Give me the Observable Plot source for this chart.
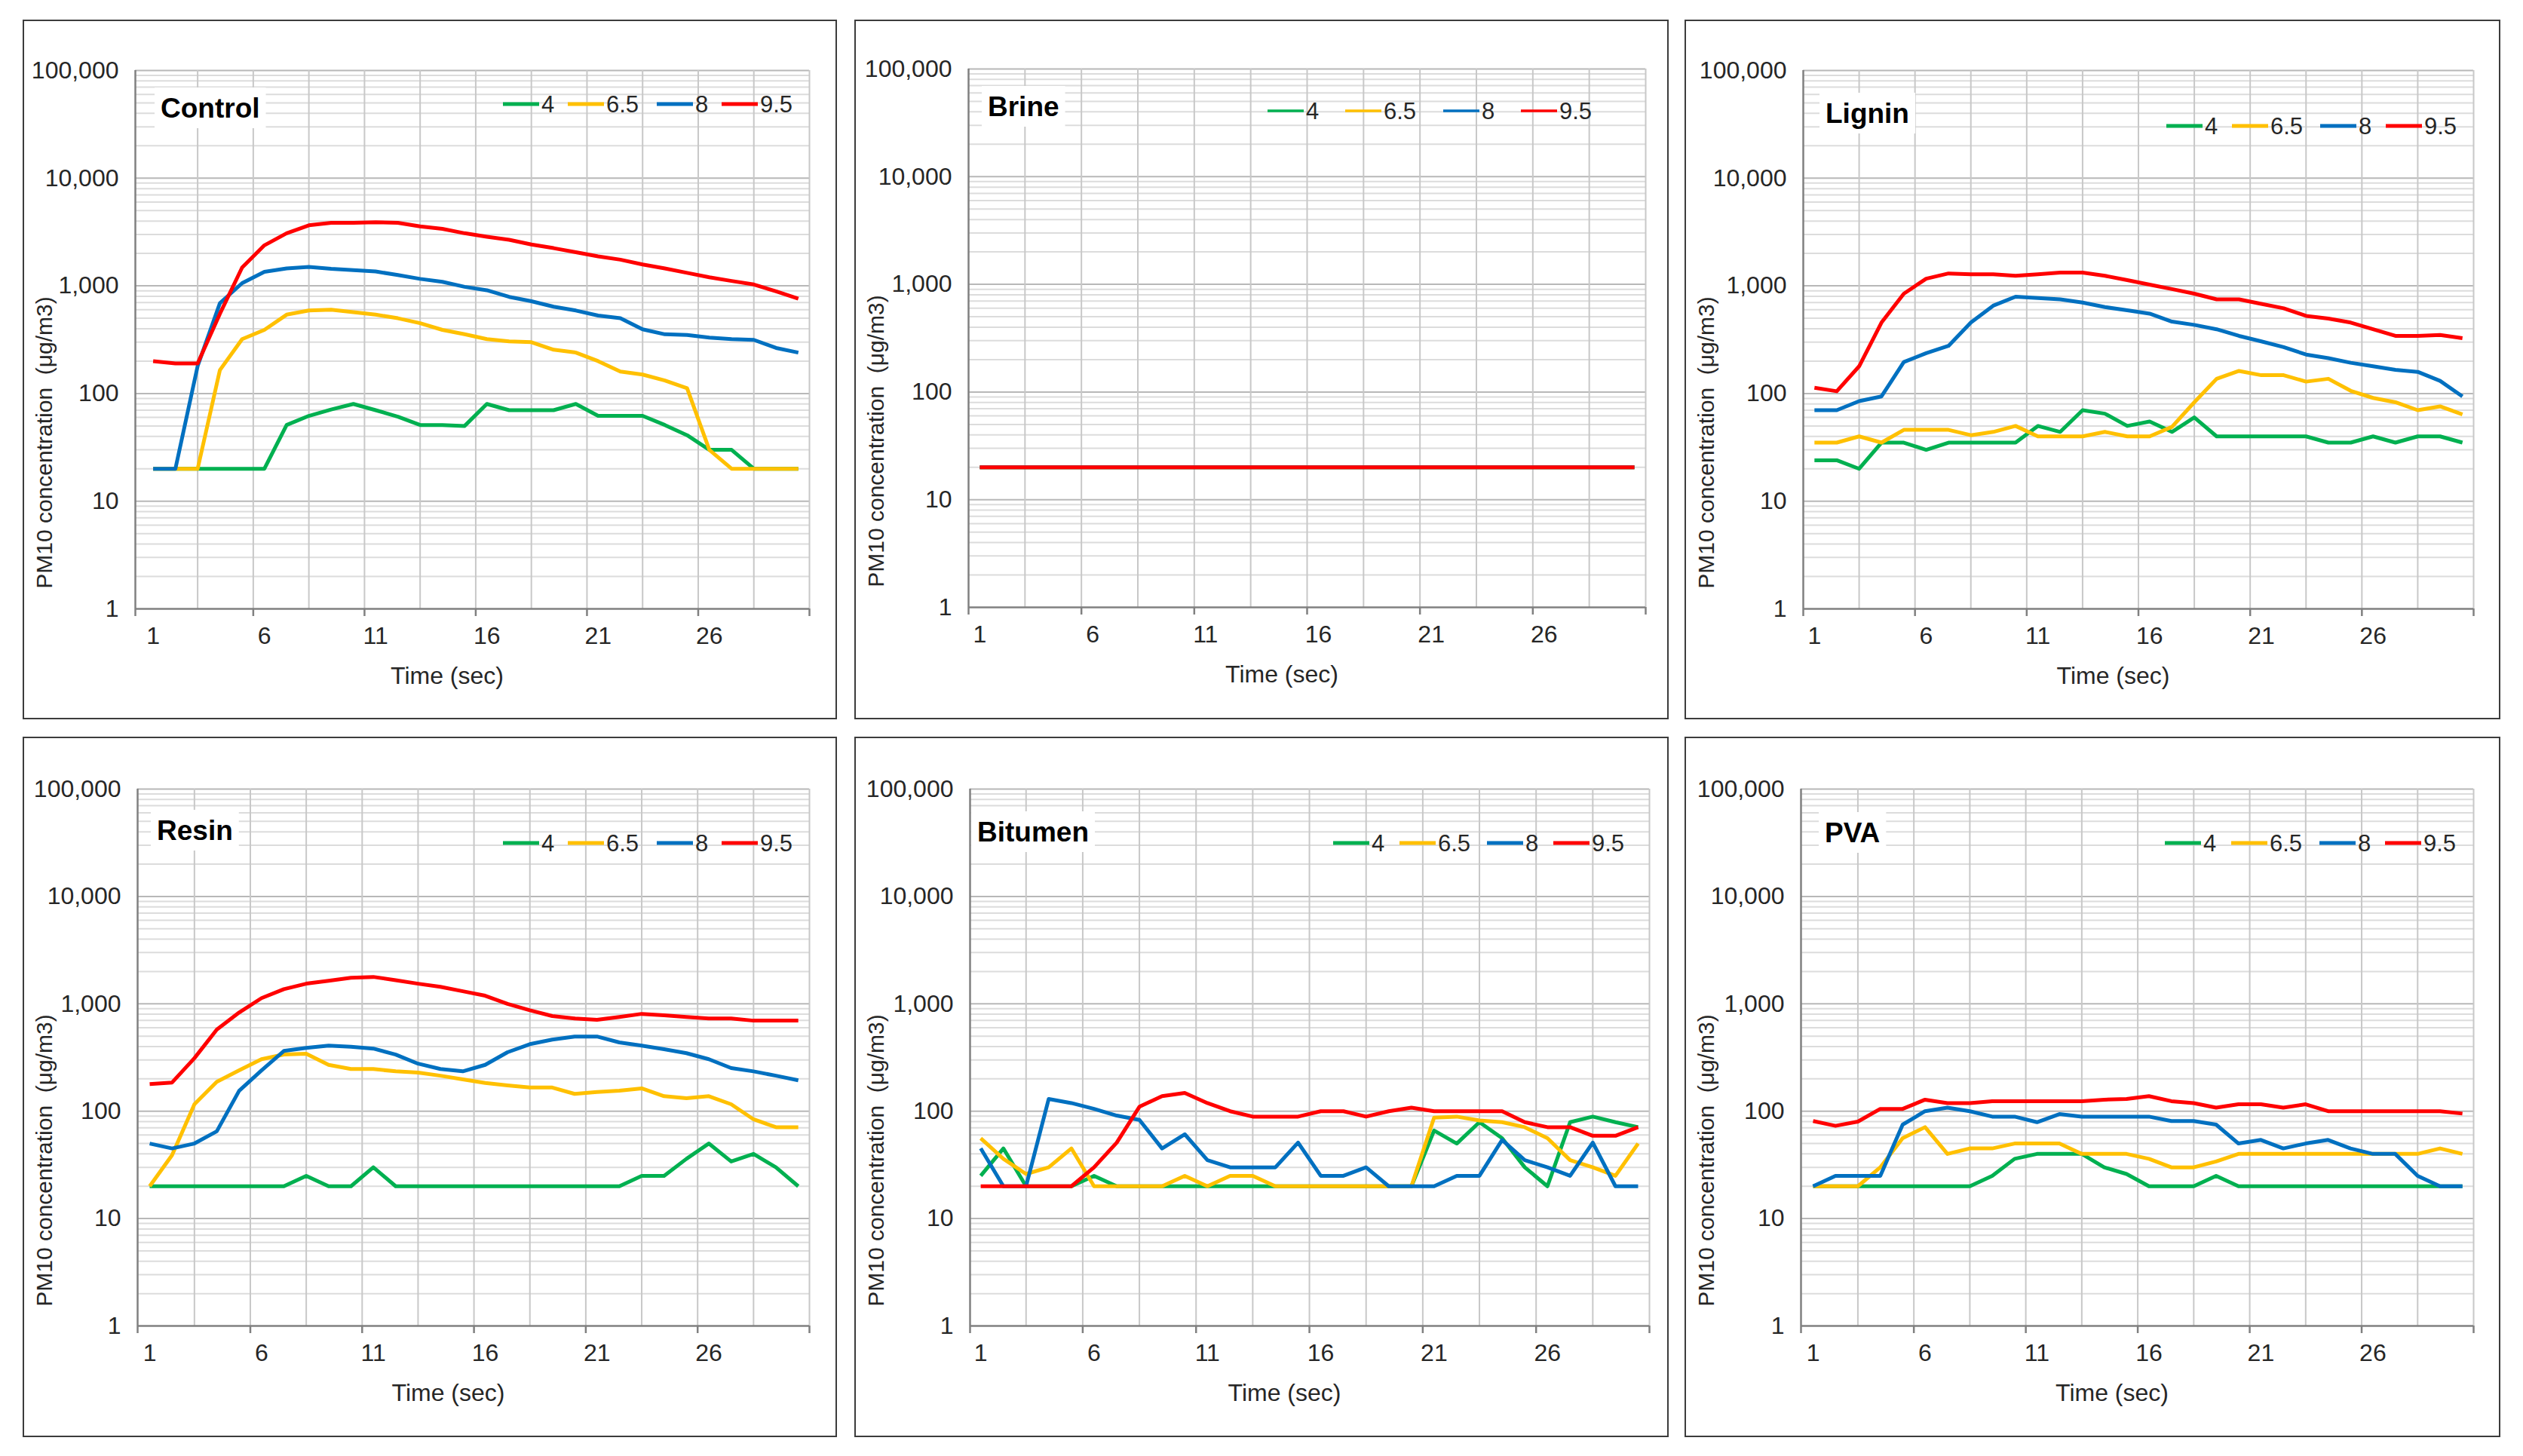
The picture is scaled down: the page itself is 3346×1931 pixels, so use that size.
<!DOCTYPE html>
<html><head><meta charset="utf-8">
<script src="https://cdn.jsdelivr.net/npm/d3@7"></script>
<script src="https://cdn.jsdelivr.net/npm/@observablehq/plot@0.6"></script>
<style>
html,body{margin:0;padding:0;background:#fff;}
body{width:3346px;height:1931px;position:relative;overflow:hidden;font-family:"Liberation Sans",Arial,sans-serif;}
.panel{position:absolute;box-sizing:border-box;border:2px solid #3c3c3c;background:#fff;}
.panel svg{display:block;}
</style></head><body>
<script>
// ---------- data ----------
const time = [1,2,3,4,5,6,7,8,9,10,11,12,13,14,15,16,17,18,19,20,21,22,23,24,25,26,27,28,29,30];
const seriesNames = ["4","6.5","8","9.5"];
const seriesColors = ["#00b050","#ffc000","#0070c0","#ff0000"];
const yTickValues = [1,10,100,1000,10000,100000];
const yMinorGrid = [2,3,4,5,6,7,8,9,20,30,40,50,60,70,80,90,200,300,400,500,600,700,800,900,
  2000,3000,4000,5000,6000,7000,8000,9000,20000,30000,40000,50000,60000,70000,80000,90000];
const yMajorGrid = [10,100,1000,10000,100000];
const xTickLabels = [1,6,11,16,21,26];
const xTickMarks = [5.5,10.5,15.5,20.5,25.5,30.5];
const xGrid = [3,5.5,8,10.5,13,15.5,18,20.5,23,25.5,28,30.5];
const xAxisTitle = "Time (sec)";
const yAxisTitle = "PM10 concentration  (\u03bcg/m3)";

const control4  = [20,20,20,20,20,20,51,62,71,80,70,61,51,51,50,80,70,70,70,80,62,62,62,51,41,30,30,20,20,20];
const control65 = [20,20,20,165,320,390,540,590,600,570,540,500,450,390,355,320,305,300,255,240,200,160,150,132,112,30,20,20,20,20];
const control8  = [20,20,180,690,1060,1350,1450,1500,1440,1400,1360,1260,1160,1090,980,910,790,720,640,590,530,500,395,355,350,330,320,315,265,240];
const control95 = [200,190,190,550,1480,2380,3080,3650,3850,3850,3900,3850,3570,3380,3080,2860,2680,2420,2240,2050,1880,1750,1580,1450,1320,1200,1110,1030,890,760];

const brine4  = [20,20,20,20,20,20,20,20,20,20,20,20,20,20,20,20,20,20,20,20,20,20,20,20,20,20,20,20,20,20];
const brine65 = [20,20,20,20,20,20,20,20,20,20,20,20,20,20,20,20,20,20,20,20,20,20,20,20,20,20,20,20,20,20];
const brine8  = [20,20,20,20,20,20,20,20,20,20,20,20,20,20,20,20,20,20,20,20,20,20,20,20,20,20,20,20,20,20];
const brine95 = [20,20,20,20,20,20,20,20,20,20,20,20,20,20,20,20,20,20,20,20,20,20,20,20,20,20,20,20,20,20];

const lignin4  = [24,24,20,35,35,30,35,35,35,35,50,44,70,65,50,55,44,60,40,40,40,40,40,35,35,40,35,40,40,35];
const lignin65 = [35,35,40,35,46,46,46,41,44,50,40,40,40,44,40,40,49,83,137,162,148,148,129,137,106,91,83,70,76,64];
const lignin8  = [70,70,85,94,196,237,277,456,654,793,770,749,700,635,594,552,465,434,395,343,305,270,230,213,193,179,166,159,131,94];
const lignin95 = [113,105,179,456,846,1165,1304,1283,1283,1240,1283,1330,1330,1240,1129,1027,934,846,749,749,680,619,526,496,456,396,343,343,350,327];

const resin4  = [20,20,20,20,20,20,20,25,20,20,30,20,20,20,20,20,20,20,20,20,20,20,25,25,36,50,34,40,30,20];
const resin65 = [20,39,116,188,240,305,337,343,270,247,247,235,229,214,198,183,174,166,166,145,151,155,163,138,132,138,116,84,71,71];
const resin8  = [50,45,50,65,155,240,364,389,408,398,383,337,277,247,235,270,354,421,464,496,496,437,408,378,347,305,252,235,214,194];
const resin95 = [179,185,312,575,830,1130,1370,1540,1640,1750,1780,1660,1540,1440,1310,1190,1000,870,770,730,710,754,806,783,754,730,730,697,697,697];

const bitumen4  = [25,45,20,20,20,25,20,20,20,20,20,20,20,20,20,20,20,20,20,20,66,50,79,56,30,20,79,89,79,71];
const bitumen65 = [56,36,26,30,45,20,20,20,20,25,20,25,25,20,20,20,20,20,20,20,87,89,82,79,71,56,35,30,25,50];
const bitumen8  = [45,20,20,130,119,105,91,83,45,61,35,30,30,30,51,25,25,30,20,20,20,25,25,54,35,30,25,51,20,20];
const bitumen95 = [20,20,20,20,20,30,51,110,138,148,119,100,89,89,89,100,100,89,100,108,100,100,100,100,79,71,71,59,59,71];

const pva4  = [20,20,20,20,20,20,20,20,25,36,40,40,40,30,26,20,20,20,25,20,20,20,20,20,20,20,20,20,20,20];
const pva65 = [20,20,20,30,56,71,40,45,45,50,50,50,40,40,40,36,30,30,34,40,40,40,40,40,40,40,40,40,45,40];
const pva8  = [20,25,25,25,75,100,108,100,89,89,79,94,89,89,89,89,81,81,75,50,54,45,50,54,45,40,40,25,20,20];
const pva95 = [81,73,80,105,105,128,119,119,124,124,124,124,124,128,130,138,124,119,108,116,116,108,116,100,100,100,100,100,100,95];

// ---------- layout ----------
const panels = [
  {name:"Control", series:[control4,control65,control8,control95], left:30, top:26, w:1080, h:928, mL:147, mR:35, mT:65, mB:145, xStart:0.2, titleX:181, titleY:115, legX:635, legY:110, legSteps:[0,86,204,290], legStroke:5},
  {name:"Brine", series:[brine4,brine65,brine8,brine95], left:1133, top:26, w:1080, h:928, mL:149, mR:29, mT:63, mB:147, xStart:0.5, titleX:175, titleY:113, legX:546, legY:119, legSteps:[0,103,233,336], legStroke:3.5},
  {name:"Lignin", series:[lignin4,lignin65,lignin8,lignin95], left:2234, top:26, w:1082, h:928, mL:155, mR:34, mT:65, mB:145, xStart:0.5, titleX:185, titleY:122, legX:637, legY:139, legSteps:[0,87,204,291], legStroke:5},
  {name:"Resin", series:[resin4,resin65,resin8,resin95], left:30, top:977, w:1080, h:929, mL:150, mR:35, mT:67, mB:146, xStart:0.46, titleX:176, titleY:122, legX:635, legY:139, legSteps:[0,86,204,290], legStroke:5},
  {name:"Bitumen", series:[bitumen4,bitumen65,bitumen8,bitumen95], left:1133, top:977, w:1080, h:929, mL:151, mR:24, mT:67, mB:146, xStart:0.53, titleX:161, titleY:124, legX:633, legY:139, legSteps:[0,88,204,292], legStroke:5},
  {name:"PVA", series:[pva4,pva65,pva8,pva95], left:2234, top:977, w:1082, h:929, mL:152, mR:34, mT:67, mB:146, xStart:0.46, titleX:184, titleY:125, legX:635, legY:139, legSteps:[0,88,205,292], legStroke:5}
];

const FONT = '"Liberation Sans", Arial, sans-serif';
const TEXT = "#262626";

panels.forEach(p => {
  const div = document.createElement("div");
  div.className = "panel";
  Object.assign(div.style, {left: p.left+"px", top: p.top+"px", width: p.w+"px", height: p.h+"px"});
  document.body.appendChild(div);
  const W = p.w - 4, H = p.h - 4;

  const rows = [];
  p.series.forEach((vals, si) => vals.forEach((v, i) => rows.push({time: time[i], value: v, series: seriesNames[si]})));

  const svg = Plot.plot({
    width: W, height: H,
    marginLeft: p.mL, marginRight: p.mR, marginTop: p.mT, marginBottom: p.mB,
    style: {background: "white", fontFamily: FONT, fontSize: "32px", color: TEXT, overflow: "visible"},
    x: {domain: [p.xStart, 30.5], axis: null},
    y: {type: "log", domain: [1, 100000], axis: null},
    color: {domain: seriesNames, range: seriesColors},
    marks: [
      Plot.ruleY(yMinorGrid, {stroke: "#dcdcdc", strokeWidth: 2}),
      Plot.ruleY(yMajorGrid, {stroke: "#b8b8b8", strokeWidth: 2}),
      Plot.ruleX(xGrid, {stroke: "#c8c8c8", strokeWidth: 2}),
      Plot.ruleX([p.xStart], {stroke: "#808080", strokeWidth: 2.5}),
      Plot.ruleY([1], {stroke: "#808080", strokeWidth: 2.5}),
      Plot.axisY(yTickValues, {tickSize: 0, tickPadding: 22, tickFormat: d3.format(","), label: null, fontSize: 32}),
      Plot.axisX([p.xStart, ...xTickMarks], {tickSize: 10, tickFormat: () => "", label: null, stroke: "#808080", strokeWidth: 2.5}),
      Plot.axisX(xTickLabels, {tickSize: 0, tickPadding: 24, label: null, fontSize: 32}),
      Plot.line(rows, {x: "time", y: "value", stroke: "series", z: "series", strokeWidth: 5, strokeLinejoin: "round", strokeLinecap: "butt"})
    ]
  });
  div.appendChild(svg);

  const s = d3.select(svg);
  const plotBottom = H - p.mB;
  const plotCenterY = (p.mT + plotBottom) / 2;
  const plotCenterX = (p.mL + W - p.mR) / 2;

  // axis titles
  s.append("text").attr("transform", `translate(26,${plotCenterY + 137}) rotate(-90)`)
    .attr("text-anchor", "middle").attr("dy", "0.35em")
    .attr("font-family", FONT).attr("font-size", 30).attr("fill", TEXT).text(yAxisTitle);
  s.append("text").attr("x", plotCenterX - 33).attr("y", plotBottom + 89)
    .attr("text-anchor", "middle").attr("dy", "0.35em")
    .attr("font-family", FONT).attr("font-size", 32).attr("fill", TEXT).text(xAxisTitle);

  // title with white box
  const tg = s.append("g").attr("text-anchor", "start");
  const box = tg.append("rect").attr("fill", "white");
  const tt = tg.append("text").attr("x", p.titleX).attr("y", p.titleY).attr("dy", "0.35em")
    .attr("text-anchor", "start")
    .attr("font-family", FONT).attr("font-weight", "bold").attr("font-size", 37).attr("fill", "#000").text(p.name);
  const tl = tt.node().getComputedTextLength();
  box.attr("x", p.titleX - 8).attr("y", p.titleY - 27).attr("width", tl + 16).attr("height", 54);

  // legend
  const lg = s.append("g").attr("text-anchor", "start").attr("font-family", FONT).attr("font-size", 31).attr("fill", TEXT);
  seriesNames.forEach((name, i) => {
    const x0 = p.legX + p.legSteps[i];
    lg.append("line").attr("x1", x0).attr("x2", x0 + 48).attr("y1", p.legY).attr("y2", p.legY)
      .attr("stroke", seriesColors[i]).attr("stroke-width", p.legStroke);
    lg.append("text").attr("x", x0 + 51).attr("y", p.legY).attr("dy", "0.35em")
      .attr("text-anchor", "start").text(name);
  });
});
</script>
</body></html>
